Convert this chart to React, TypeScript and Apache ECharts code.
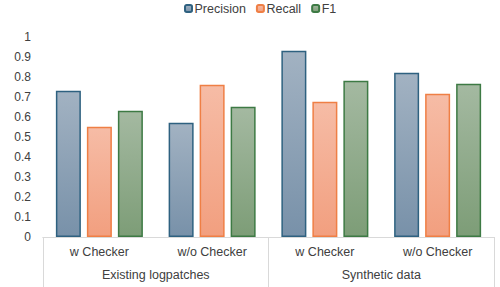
import React, { useEffect, useRef } from "react";
import * as echarts from "echarts";

const categories = ["w Checker", "w/o Checker", "w Checker", "w/o Checker"];
const groups = ["Existing logpatches", "Synthetic data"];
const precision = [0.73, 0.57, 0.93, 0.82];
const recall = [0.55, 0.76, 0.675, 0.715];
const f1 = [0.63, 0.65, 0.78, 0.765];
const yTicks = { min: 0, max: 1, interval: 0.1 };

const grad = (top: string, bottom: string) =>
  new echarts.graphic.LinearGradient(0, 0, 0, 1, [
    { offset: 0, color: top },
    { offset: 1, color: bottom },
  ]);

export default function App() {
  const ref = useRef<HTMLDivElement>(null);
  useEffect(() => {
    if (!ref.current) return;
    const chart = echarts.init(ref.current, null, { renderer: "svg" });
    const textColor = "#404040";
    const font = "'Liberation Sans', Arial, sans-serif";
    const mk = (name: string, data: number[], top: string, bottom: string, border: string) => ({
      name,
      type: "bar",
      xAxisIndex: 0,
      data,
      barWidth: 25,
      barGap: "24%",
      itemStyle: { color: grad(top, bottom), borderColor: border, borderWidth: 1.5 },
    });
    chart.setOption({
      animation: false,
      textStyle: { fontFamily: font },
      legend: {
        top: 2,
        left: 184,
        padding: 0,
        itemWidth: 7,
        itemHeight: 7,
        itemGap: 10,
        textStyle: { color: textColor, fontSize: 12.5, fontFamily: font, padding: [0, 0, 0, -2.5] },
        data: ["Precision", "Recall", "F1"],
      },
      grid: { left: 43, right: 6, top: 36.7, bottom: 50 },
      xAxis: [
        {
          type: "category",
          data: categories,
          position: "bottom",
          axisLine: { show: true, lineStyle: { color: "#d9d9d9", width: 1 } },
          axisTick: { show: false },
          axisLabel: { color: textColor, fontSize: 12.5, margin: 8, fontFamily: font },
        },
        {
          type: "category",
          data: groups,
          position: "bottom",
          offset: 0,
          axisLine: { show: true, lineStyle: { color: "#d9d9d9", width: 1 } },
          axisTick: { show: true, length: 50, interval: 0, lineStyle: { color: "#d9d9d9", width: 1 } },
          axisLabel: { color: textColor, fontSize: 12.5, margin: 31, fontFamily: font },
        },
      ],
      yAxis: {
        type: "value",
        min: yTicks.min,
        max: yTicks.max,
        interval: yTicks.interval,
        axisLine: { show: false },
        axisTick: { show: false },
        splitLine: { show: false },
        axisLabel: { color: textColor, fontSize: 12, margin: 12, fontFamily: font },
      },
      series: [
        mk("Precision", precision, "#a2b2c2", "#7891a9", "#2e6180"),
        mk("Recall", recall, "#f6bca6", "#f29f7f", "#ef7f45"),
        mk("F1", f1, "#a4b9a1", "#7d9d77", "#3d7a44"),
      ],
    });
    return () => chart.dispose();
  }, []);
  return (
    <div
      ref={ref}
      style={{ position: "fixed", left: 0, top: 0, width: 500, height: 287, background: "#fff" }}
    />
  );
}
